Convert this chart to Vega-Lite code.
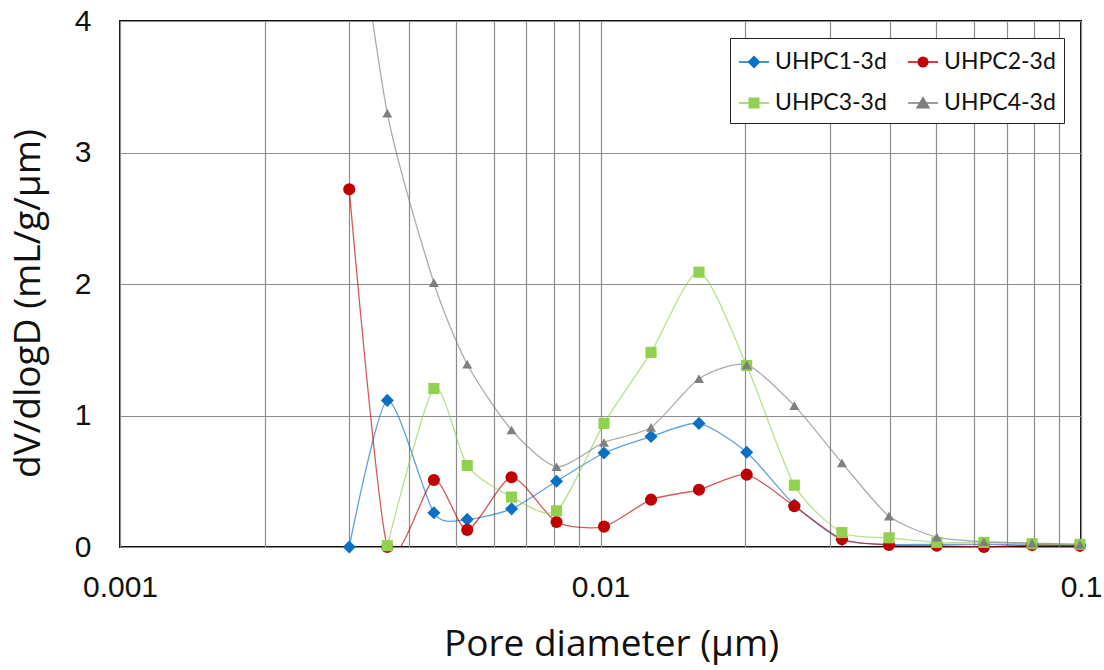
{
  "$schema": "https://vega.github.io/schema/vega-lite/v6.json",
  "width": 961,
  "height": 526,
  "autosize": "none",
  "padding": {"left": 120, "top": 21, "right": 23, "bottom": 123},
  "background": "white",
  "config": {
    "view": {"stroke": "#111111", "strokeWidth": 2},
    "axis": {"domain": false, "ticks": false, "gridColor": "#8c8c8c", "gridWidth": 1.2, "gridOpacity": 1},
    "legend": {
      "title": null,
      "orient": "none",
      "legendX": 610,
      "legendY": 17,
      "direction": "horizontal",
      "columns": 2,
      "columnPadding": 18,
      "rowPadding": 13,
      "padding": 8,
      "symbolSize": 900,
      "symbolStrokeWidth": 1.4,
      "labelOffset": 5,
      "labelFont": "Lato",
      "labelFontSize": 23,
      "labelColor": "#111111",
      "labelLimit": 300,
      "strokeColor": "#222222",
      "fillColor": "white"
    }
  },
  "data": {
    "values": [
      {"d": 0.003, "v": 0, "s": "UHPC1-3d"},
      {"d": 0.0036, "v": 1.115, "s": "UHPC1-3d"},
      {"d": 0.0045, "v": 0.26, "s": "UHPC1-3d"},
      {"d": 0.00528, "v": 0.21, "s": "UHPC1-3d"},
      {"d": 0.00653, "v": 0.29, "s": "UHPC1-3d"},
      {"d": 0.0081, "v": 0.5, "s": "UHPC1-3d"},
      {"d": 0.01017, "v": 0.715, "s": "UHPC1-3d"},
      {"d": 0.01274, "v": 0.84, "s": "UHPC1-3d"},
      {"d": 0.01603, "v": 0.94, "s": "UHPC1-3d"},
      {"d": 0.02015, "v": 0.72, "s": "UHPC1-3d"},
      {"d": 0.02532, "v": 0.32, "s": "UHPC1-3d"},
      {"d": 0.0318, "v": 0.055, "s": "UHPC1-3d"},
      {"d": 0.03985, "v": 0.02, "s": "UHPC1-3d"},
      {"d": 0.0501, "v": 0.02, "s": "UHPC1-3d"},
      {"d": 0.0628, "v": 0.02, "s": "UHPC1-3d"},
      {"d": 0.0791, "v": 0.015, "s": "UHPC1-3d"},
      {"d": 0.0995, "v": 0.01, "s": "UHPC1-3d"},

      {"d": 0.003, "v": 2.72, "s": "UHPC2-3d"},
      {"d": 0.0036, "v": 0, "s": "UHPC2-3d"},
      {"d": 0.0045, "v": 0.51, "s": "UHPC2-3d"},
      {"d": 0.00528, "v": 0.13, "s": "UHPC2-3d"},
      {"d": 0.00653, "v": 0.53, "s": "UHPC2-3d"},
      {"d": 0.0081, "v": 0.19, "s": "UHPC2-3d"},
      {"d": 0.01017, "v": 0.155, "s": "UHPC2-3d"},
      {"d": 0.01274, "v": 0.36, "s": "UHPC2-3d"},
      {"d": 0.01603, "v": 0.435, "s": "UHPC2-3d"},
      {"d": 0.02015, "v": 0.55, "s": "UHPC2-3d"},
      {"d": 0.02532, "v": 0.31, "s": "UHPC2-3d"},
      {"d": 0.0318, "v": 0.06, "s": "UHPC2-3d"},
      {"d": 0.03985, "v": 0.015, "s": "UHPC2-3d"},
      {"d": 0.0501, "v": 0.01, "s": "UHPC2-3d"},
      {"d": 0.0628, "v": 0.0, "s": "UHPC2-3d"},
      {"d": 0.0791, "v": 0.015, "s": "UHPC2-3d"},
      {"d": 0.0995, "v": 0.01, "s": "UHPC2-3d"},

      {"d": 0.0036, "v": 0.01, "s": "UHPC3-3d"},
      {"d": 0.0045, "v": 1.205, "s": "UHPC3-3d"},
      {"d": 0.00528, "v": 0.62, "s": "UHPC3-3d"},
      {"d": 0.00653, "v": 0.38, "s": "UHPC3-3d"},
      {"d": 0.0081, "v": 0.275, "s": "UHPC3-3d"},
      {"d": 0.01017, "v": 0.94, "s": "UHPC3-3d"},
      {"d": 0.01274, "v": 1.48, "s": "UHPC3-3d"},
      {"d": 0.01603, "v": 2.09, "s": "UHPC3-3d"},
      {"d": 0.02015, "v": 1.38, "s": "UHPC3-3d"},
      {"d": 0.02532, "v": 0.47, "s": "UHPC3-3d"},
      {"d": 0.0318, "v": 0.11, "s": "UHPC3-3d"},
      {"d": 0.03985, "v": 0.07, "s": "UHPC3-3d"},
      {"d": 0.0501, "v": 0.035, "s": "UHPC3-3d"},
      {"d": 0.0628, "v": 0.035, "s": "UHPC3-3d"},
      {"d": 0.0791, "v": 0.025, "s": "UHPC3-3d"},
      {"d": 0.0995, "v": 0.02, "s": "UHPC3-3d"},

      {"d": 0.003, "v": 5.3, "s": "UHPC4-3d"},
      {"d": 0.0036, "v": 3.3, "s": "UHPC4-3d"},
      {"d": 0.0045, "v": 2.01, "s": "UHPC4-3d"},
      {"d": 0.00528, "v": 1.39, "s": "UHPC4-3d"},
      {"d": 0.00653, "v": 0.89, "s": "UHPC4-3d"},
      {"d": 0.0081, "v": 0.61, "s": "UHPC4-3d"},
      {"d": 0.01017, "v": 0.795, "s": "UHPC4-3d"},
      {"d": 0.01274, "v": 0.91, "s": "UHPC4-3d"},
      {"d": 0.01603, "v": 1.28, "s": "UHPC4-3d"},
      {"d": 0.02015, "v": 1.385, "s": "UHPC4-3d"},
      {"d": 0.02532, "v": 1.075, "s": "UHPC4-3d"},
      {"d": 0.0318, "v": 0.64, "s": "UHPC4-3d"},
      {"d": 0.03985, "v": 0.235, "s": "UHPC4-3d"},
      {"d": 0.0501, "v": 0.075, "s": "UHPC4-3d"},
      {"d": 0.0628, "v": 0.04, "s": "UHPC4-3d"},
      {"d": 0.0791, "v": 0.03, "s": "UHPC4-3d"},
      {"d": 0.0995, "v": 0.02, "s": "UHPC4-3d"}
    ]
  },
  "encoding": {
    "x": {
      "field": "d",
      "type": "quantitative",
      "scale": {"type": "log", "domain": [0.001, 0.1], "nice": false},
      "axis": {
        "title": "Pore diameter (µm)",
        "titleFont": "Open Sans",
        "titleFontSize": 37,
        "titleFontWeight": "normal",
        "titleColor": "#111111",
        "titlePadding": 24,
        "titleX": 491,
        "labelFont": "Liberation Sans",
        "labelFontSize": 30,
        "labelColor": "#111111",
        "labelPadding": 25,
        "labelFlush": false,
        "labelOverlap": false,
        "values": [0.001, 0.002, 0.003, 0.004, 0.005, 0.006, 0.007, 0.008, 0.009, 0.01, 0.02, 0.03, 0.04, 0.05, 0.06, 0.07, 0.08, 0.09, 0.1],
        "labelExpr": "abs(log(datum.value) / LN10 - round(log(datum.value) / LN10)) < 1e-6 ? format(datum.value, '') : ''"
      }
    },
    "y": {
      "field": "v",
      "type": "quantitative",
      "scale": {"domain": [0, 4], "nice": false},
      "axis": {
        "title": "dV/dlogD (mL/g/µm)",
        "titleFont": "Open Sans",
        "titleFontSize": 37,
        "titleFontWeight": "normal",
        "titleColor": "#111111",
        "titlePadding": 27,
        "titleY": 282,
        "labelFont": "Liberation Sans",
        "labelFontSize": 30,
        "labelColor": "#111111",
        "labelPadding": 29,
        "values": [0, 1, 2, 3, 4]
      }
    }
  },
  "layer": [
    {
      "mark": {"type": "line", "interpolate": "cardinal", "tension": 0.3, "clip": true, "strokeWidth": 1.3, "opacity": 0.65},
      "encoding": {
        "color": {
          "field": "s",
          "type": "nominal",
          "scale": {
            "domain": ["UHPC1-3d", "UHPC2-3d", "UHPC3-3d", "UHPC4-3d"],
            "range": ["#0a70c4", "#c00000", "#92d050", "#7f7f7f"]
          },
          "legend": null
        }
      }
    },
    {
      "mark": {"type": "point", "filled": true, "opacity": 1},
      "encoding": {
        "color": {
          "field": "s",
          "type": "nominal",
          "scale": {
            "domain": ["UHPC1-3d", "UHPC2-3d", "UHPC3-3d", "UHPC4-3d"],
            "range": ["#0a70c4", "#c00000", "#92d050", "#7f7f7f"]
          },
          "legend": null
        },
        "shape": {
          "field": "s",
          "type": "nominal",
          "scale": {"domain": ["UHPC1-3d", "UHPC2-3d", "UHPC3-3d", "UHPC4-3d"], "range": ["diamond", "circle", "square", "triangle-up"]},
          "legend": null
        },
        "size": {
          "field": "s",
          "type": "nominal",
          "scale": {"domain": ["UHPC1-3d", "UHPC2-3d", "UHPC3-3d", "UHPC4-3d"], "range": [170, 100, 121, 180]},
          "legend": null
        }
      }
    },
    {
      "transform": [{"filter": "false"}],
      "mark": {"type": "point", "filled": true, "opacity": 1, "strokeWidth": 1.4},
      "encoding": {
        "fill": {
          "field": "s",
          "type": "nominal",
          "scale": {
            "domain": ["UHPC1-3d", "UHPC2-3d", "UHPC3-3d", "UHPC4-3d"],
            "range": ["#0a70c4", "#c00000", "#92d050", "#7f7f7f"]
          }
        },
        "stroke": {
          "field": "s",
          "type": "nominal",
          "scale": {
            "domain": ["UHPC1-3d", "UHPC2-3d", "UHPC3-3d", "UHPC4-3d"],
            "range": ["#0a70c4", "#c00000", "#92d050", "#7f7f7f"]
          }
        },
        "shape": {
          "field": "s",
          "type": "nominal",
          "scale": {
            "domain": ["UHPC1-3d", "UHPC2-3d", "UHPC3-3d", "UHPC4-3d"],
            "range": [
              "M-1,0H1M0,-0.36L0.36,0L0,0.36L-0.36,0Z",
              "M-1,0H1M-0.32,0A0.32,0.32,0,1,1,0.32,0A0.32,0.32,0,1,1,-0.32,0Z",
              "M-1,0H1M-0.32,-0.32H0.32V0.32H-0.32Z",
              "M-1,0H1M0,-0.36L0.4,0.32L-0.4,0.32Z"
            ]
          }
        }
      }
    }
  ],
  "resolve": {"scale": {"shape": "independent", "fill": "independent", "stroke": "independent", "color": "independent"}}
}
